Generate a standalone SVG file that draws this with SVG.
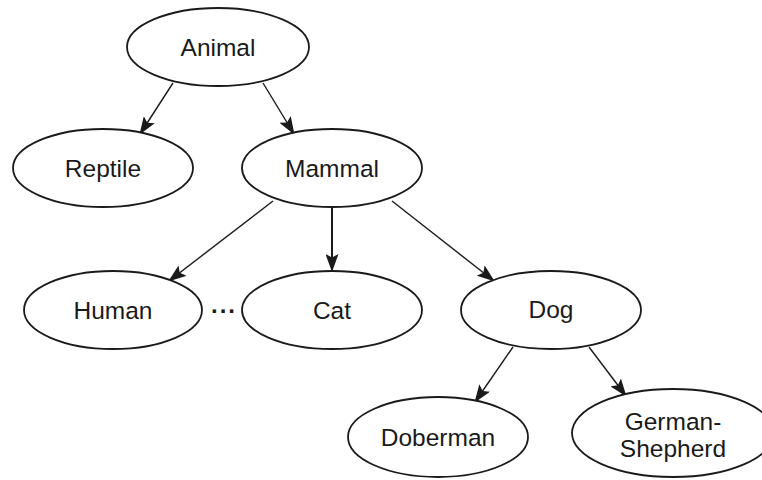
<svg xmlns="http://www.w3.org/2000/svg" width="762" height="480" viewBox="0 0 762 480">
<style>
.n ellipse{fill:#fff;stroke:#1a1a1a;stroke-width:1.8}
.n text{font-family:"Liberation Sans",Arial,sans-serif;font-size:24.5px;fill:#1a1a1a;text-anchor:middle}
.e line{stroke:#1a1a1a;stroke-width:1.4;marker-end:url(#ah)}
</style>
<defs>
<marker id="ah" markerUnits="userSpaceOnUse" markerWidth="18" markerHeight="13" viewBox="0 0 18 13" refX="17" refY="6.5" orient="auto">
<path d="M0,0 L18,6.5 L0,13 L3.5,6.5 z" fill="#1a1a1a"/>
</marker>
</defs>
<rect width="762" height="480" fill="#fff"/>
<g id="connectors" class="e">
<line x1="173" y1="83" x2="140" y2="134"/>
<line x1="263" y1="83" x2="294" y2="134"/>
<line x1="273" y1="201" x2="169" y2="281"/>
<line x1="332" y1="208" x2="332" y2="271" style="stroke-width:2"/>
<line x1="392" y1="201" x2="494" y2="281"/>
<line x1="513" y1="347" x2="475" y2="402"/>
<line x1="589" y1="347" x2="626" y2="396"/>
</g>
<g id="animal" class="n"><ellipse cx="218" cy="47" rx="91" ry="39"/><text x="218" y="56">Animal</text></g>
<g id="reptile" class="n"><ellipse cx="103" cy="168" rx="90" ry="39"/><text x="103" y="177">Reptile</text></g>
<g id="mammal" class="n"><ellipse cx="332" cy="168" rx="90" ry="39"/><text x="332" y="177">Mammal</text></g>
<g id="human" class="n"><ellipse cx="113" cy="310" rx="89" ry="39"/><text x="113" y="319">Human</text></g>
<g id="ellipsis" class="n"><text x="224" y="313" style="font-weight:bold;font-size:24px;letter-spacing:2px">...</text></g>
<g id="cat" class="n"><ellipse cx="332" cy="310" rx="90" ry="39"/><text x="332" y="319">Cat</text></g>
<g id="dog" class="n"><ellipse cx="551" cy="310" rx="90" ry="39"/><text x="551" y="318">Dog</text></g>
<g id="doberman" class="n"><ellipse cx="438" cy="437" rx="90" ry="40"/><text x="438" y="446">Doberman</text></g>
<g id="german-shepherd" class="n"><ellipse cx="673" cy="433" rx="101" ry="44"/><text x="673" y="430">German-</text><text x="673" y="457">Shepherd</text></g>
</svg>
